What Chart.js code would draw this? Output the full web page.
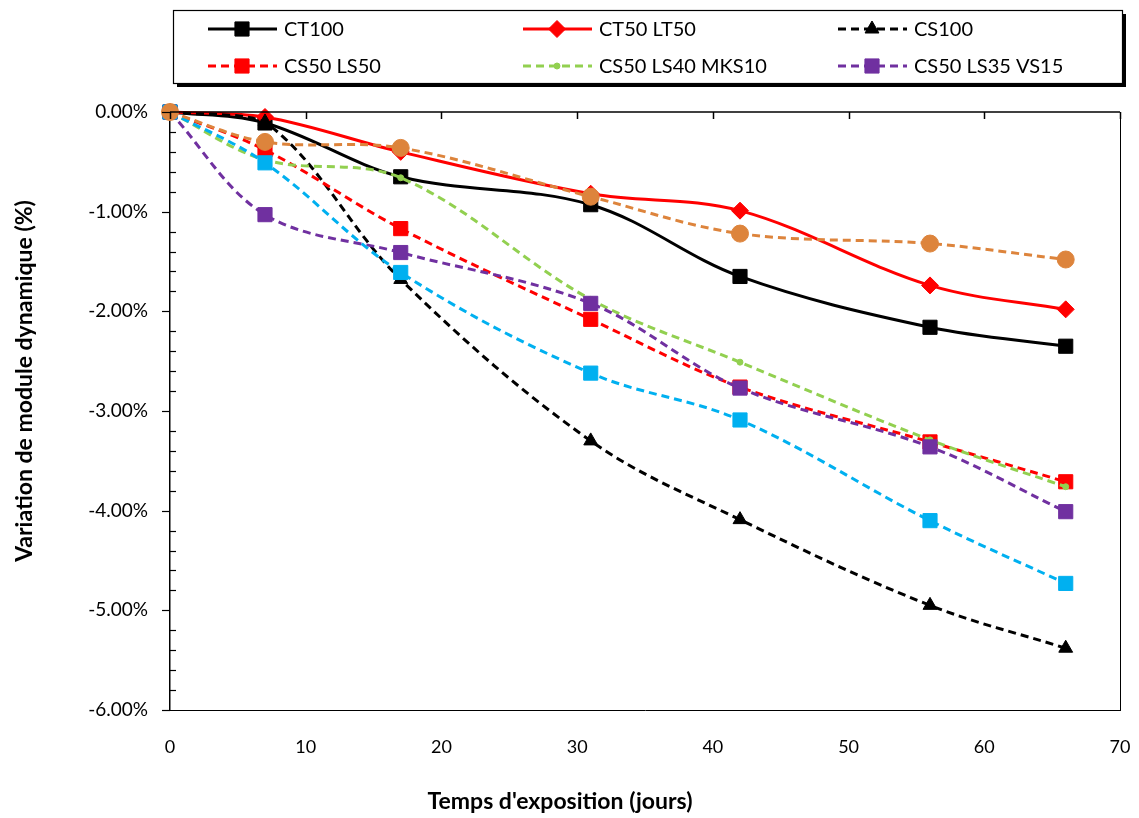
<!DOCTYPE html>
<html>
<head>
<meta charset="utf-8">
<script src="https://cdn.jsdelivr.net/npm/chart.js@4.4.1/dist/chart.umd.min.js"></script>
<style>
  html, body { margin: 0; padding: 0; background: #fff; }
  #wrap { width: 1139px; height: 818px; position: relative; }
</style>
</head>
<body>
<div id="wrap"><canvas id="chart"></canvas></div>
<script>
// exposure time (days)
const days = [0, 7, 17, 31, 42, 56, 66];

// variation of dynamic modulus (%)
const ct100 = [0, -0.11, -0.65, -0.93, -1.65, -2.16, -2.35];
const ct50lt50 = [0, -0.05, -0.40, -0.82, -0.99, -1.74, -1.98];
const cs100 = [0, -0.10, -1.68, -3.30, -4.09, -4.95, -5.38];
const cs50ls50 = [0, -0.38, -1.17, -2.08, -2.76, -3.31, -3.71];
const cs50ls40mks10 = [0, -0.48, -0.66, -1.88, -2.51, -3.29, -3.76];
const cs50ls35vs15 = [0, -1.03, -1.41, -1.92, -2.77, -3.36, -4.01];
const seriesBlue = [0, -0.51, -1.61, -2.62, -3.09, -4.10, -4.73];
const seriesOrange = [0, -0.30, -0.36, -0.85, -1.22, -1.32, -1.48];

const seriesLabels = ['CT100', 'CT50 LT50', 'CS100', 'CS50 LS50', 'CS50 LS40 MKS10', 'CS50 LS35 VS15', '', ''];
const xTicks = [0, 10, 20, 30, 40, 50, 60, 70];
const yTicks = [0, -1, -2, -3, -4, -5, -6];

const FONT = "Lato, 'Open Sans', sans-serif";
const dash = [8, 5];

function pts(values) {
    return values.map((v, i) => ({ x: days[i], y: v }));
}

function makeSet(label, values, color, style, radius, dashed, extra) {
    return Object.assign({
        label,
        data: pts(values),
        borderColor: color,
        backgroundColor: color,
        pointBackgroundColor: color,
        pointBorderColor: color,
        pointStyle: style,
        pointRadius: radius,
        pointHoverRadius: radius,
        pointBorderWidth: 1,
        borderWidth: 3,
        borderDash: dashed ? dash : [],
        tension: 0.35,
        fill: false,
        clip: false
    }, extra || {});
}

const datasets = [
    makeSet(seriesLabels[0], ct100, '#000000', 'rect', 10, false),
    makeSet(seriesLabels[1], ct50lt50, '#ff0000', 'rectRot', 8.5, false),
    makeSet(seriesLabels[2], cs100, '#000000', 'triangle', 8, true),
    makeSet(seriesLabels[3], cs50ls50, '#ff0000', 'rect', 10, true),
    makeSet(seriesLabels[4], cs50ls40mks10, '#92d050', 'circle', 3, true),
    makeSet(seriesLabels[5], cs50ls35vs15, '#7030a0', 'rect', 10, true),
    makeSet(seriesLabels[6], seriesBlue, '#00b0f0', 'rect', 10, true),
    makeSet(seriesLabels[7], seriesOrange, '#dd843c', 'circle', 8.5, true)
];
// later series sit on top, like the original
datasets.forEach((d, i) => { d.order = datasets.length - i; });

// frame, tick marks, axis titles and the boxed legend
const decorations = {
    id: 'decorations',
    afterDatasetsDraw(chart) {
        const ctx = chart.ctx;
        const area = chart.chartArea;
        const xs = chart.scales.x;
        const ys = chart.scales.y;
        ctx.save();

        // right edge of the frame
        ctx.strokeStyle = '#000';
        ctx.lineWidth = 1;
        ctx.beginPath();
        ctx.moveTo(area.right + 0.5, area.top);
        ctx.lineTo(area.right + 0.5, area.bottom);
        ctx.stroke();

        // x axis sits at y = 0 (top)
        const y0 = ys.getPixelForValue(0);
        ctx.lineWidth = 1.5;
        ctx.beginPath();
        ctx.moveTo(area.left, y0);
        ctx.lineTo(area.right, y0);
        ctx.stroke();
        xTicks.forEach(t => {
            const px = Math.round(xs.getPixelForValue(t)) + 0.5;
            ctx.beginPath();
            ctx.moveTo(px, y0);
            ctx.lineTo(px, y0 + 7);
            ctx.stroke();
        });

        // y ticks: major outside, minor inside
        ctx.lineWidth = 1.2;
        for (let k = 0; k <= 30; k++) {
            const v = -k * 0.2;
            const py = Math.round(ys.getPixelForValue(v)) + 0.5;
            ctx.beginPath();
            if (k % 5 === 0) {
                ctx.moveTo(area.left - 8, py);
                ctx.lineTo(area.left, py);
            } else {
                ctx.moveTo(area.left, py);
                ctx.lineTo(area.left + 6, py);
            }
            ctx.stroke();
        }

        // axis titles
        ctx.fillStyle = '#000';
        ctx.font = 'bold 23px ' + FONT;
        ctx.textAlign = 'center';
        ctx.textBaseline = 'middle';
        ctx.fillText("Temps d'exposition (jours)", 560, 802);
        ctx.save();
        ctx.translate(25, 381);
        ctx.rotate(-Math.PI / 2);
        ctx.fillText('Variation de module dynamique (%)', 0, 0);
        ctx.restore();

        // legend box with shadow
        const bx = 173, by = 10, bw = 949, bh = 73;
        ctx.fillStyle = '#000';
        ctx.fillRect(bx + 4, by + 4, bw, bh);
        ctx.fillStyle = '#fff';
        ctx.fillRect(bx, by, bw, bh);
        ctx.strokeStyle = '#000';
        ctx.lineWidth = 1.2;
        ctx.strokeRect(bx + 0.5, by + 0.5, bw, bh);

        const colX = [208, 523, 838];
        const rowY = [29, 66];
        ctx.font = '20px ' + FONT;
        ctx.textAlign = 'left';
        for (let i = 0; i < 6; i++) {
            const d = chart.data.datasets[i];
            const lx = colX[i % 3];
            const ly = rowY[Math.floor(i / 3)];
            ctx.strokeStyle = d.borderColor;
            ctx.lineWidth = 3;
            ctx.setLineDash(d.borderDash);
            ctx.beginPath();
            ctx.moveTo(lx, ly);
            ctx.lineTo(lx + 69, ly);
            ctx.stroke();
            ctx.setLineDash([]);
            ctx.fillStyle = d.pointBackgroundColor;
            ctx.strokeStyle = d.pointBorderColor;
            ctx.lineWidth = 1;
            Chart.helpers.drawPoint(ctx, {
                pointStyle: d.pointStyle,
                radius: d.pointRadius,
                rotation: 0,
                borderWidth: 1
            }, lx + 34, ly);
            ctx.fillStyle = '#000';
            ctx.fillText(d.label, lx + 76, ly + 1);
        }
        ctx.restore();
    }
};

new Chart(document.getElementById('chart'), {
    type: 'line',
    data: { datasets },
    options: {
        responsive: true,
        maintainAspectRatio: false,
        animation: false,
        events: [],
        layout: { padding: { top: 112, right: 19, bottom: 0, left: 10 } },
        plugins: {
            legend: { display: false },
            tooltip: { enabled: false }
        },
        scales: {
            x: {
                type: 'linear',
                position: 'bottom',
                min: 0,
                max: 70,
                afterBuildTicks: s => { s.ticks = xTicks.map(v => ({ value: v })); },
                afterFit: s => {
                    s.height = 108;
                    s.paddingLeft = 0;
                    s.paddingRight = 0;
                },
                grid: { display: false, drawTicks: false },
                border: { display: true, color: '#000', width: 1 },
                ticks: {
                    padding: 26,
                    color: '#000',
                    font: { family: FONT, size: 18 },
                    maxRotation: 0
                }
            },
            y: {
                type: 'linear',
                min: -6,
                max: 0,
                afterBuildTicks: s => { s.ticks = yTicks.map(v => ({ value: v })); },
                afterFit: s => { s.width = 160; },
                grid: { display: false, drawTicks: false },
                border: { display: true, color: '#000', width: 1.5 },
                ticks: {
                    padding: 22,
                    color: '#000',
                    font: { family: FONT, size: 19 },
                    callback: v => v.toFixed(2) + '%'
                }
            }
        }
    },
    plugins: [decorations]
});
</script>
</body>
</html>
